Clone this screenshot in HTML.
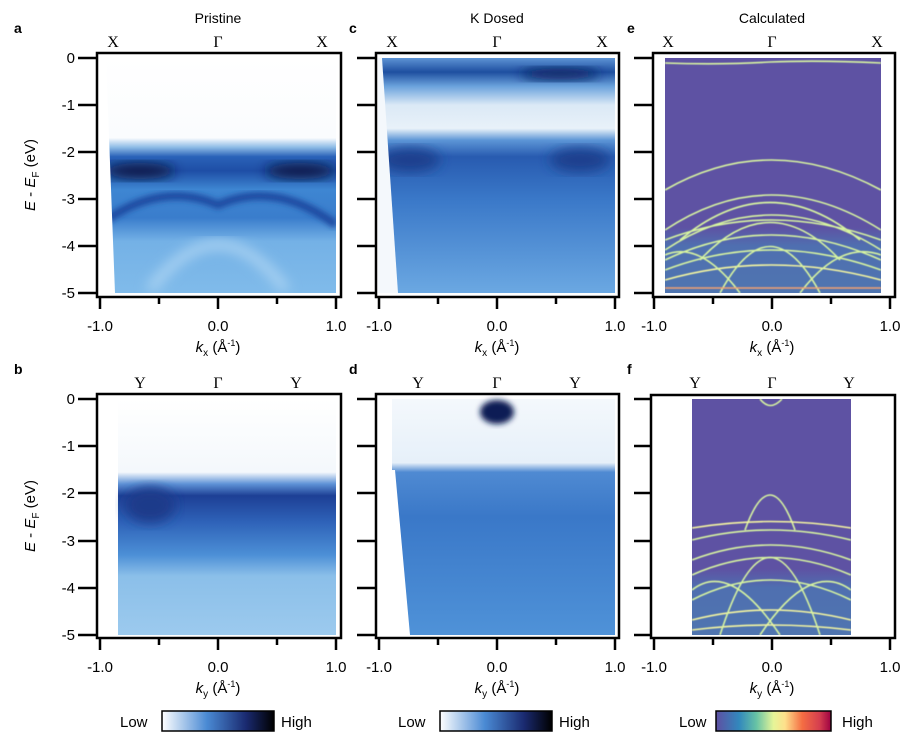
<!DOCTYPE html>
<html><head><style>
body{margin:0;background:#fff;width:904px;height:742px;overflow:hidden;font-family:"Liberation Sans",sans-serif}
svg{position:absolute;left:0;top:0}
</style></head><body>
<svg width="904" height="742" viewBox="0 0 904 742" font-family="Liberation Sans, sans-serif">
<defs>
<filter id="bl" x="-20%" y="-20%" width="140%" height="140%"><feGaussianBlur stdDeviation="6"/></filter>
<filter id="bl2" x="-20%" y="-20%" width="140%" height="140%"><feGaussianBlur stdDeviation="3"/></filter>
<filter id="gl"><feGaussianBlur stdDeviation="0.6"/></filter>
<linearGradient id="ga" x1="0" y1="0" x2="0" y2="1">
<stop offset="0" stop-color="#fff"/><stop offset="0.34" stop-color="#fafcfe"/><stop offset="0.38" stop-color="#8dbbe6"/><stop offset="0.42" stop-color="#2a62b8"/><stop offset="0.48" stop-color="#1e4ea6"/><stop offset="0.56" stop-color="#3e86d2"/><stop offset="0.68" stop-color="#3a7dcc"/><stop offset="0.78" stop-color="#74b1e6"/><stop offset="1" stop-color="#80bbea"/></linearGradient>
<linearGradient id="gc" x1="0" y1="0" x2="0" y2="1">
<stop offset="0" stop-color="#5d93d4"/><stop offset="0.06" stop-color="#1e4fa0"/><stop offset="0.12" stop-color="#6aa2dc"/><stop offset="0.2" stop-color="#dbe9f6"/><stop offset="0.3" stop-color="#e8f1f9"/><stop offset="0.35" stop-color="#5c95d6"/><stop offset="0.42" stop-color="#285bb0"/><stop offset="0.6" stop-color="#3a78c8"/><stop offset="1" stop-color="#6ba8e2"/></linearGradient>
<linearGradient id="gb" x1="0" y1="0" x2="0" y2="1">
<stop offset="0" stop-color="#fff"/><stop offset="0.31" stop-color="#f4f8fc"/><stop offset="0.36" stop-color="#5e92d6"/><stop offset="0.41" stop-color="#1d3f95"/><stop offset="0.52" stop-color="#2e62b8"/><stop offset="0.66" stop-color="#4c8fd6"/><stop offset="0.75" stop-color="#8bbfe9"/><stop offset="1" stop-color="#9ccaee"/></linearGradient>
<linearGradient id="gd" x1="0" y1="0" x2="0" y2="1">
<stop offset="0" stop-color="#f4f8fc"/><stop offset="0.27" stop-color="#e6f0f9"/><stop offset="0.31" stop-color="#4f8ad2"/><stop offset="0.5" stop-color="#3a78c8"/><stop offset="1" stop-color="#4f92d8"/></linearGradient>
<linearGradient id="cb1" x1="0" x2="1"><stop offset="0" stop-color="#fff"/><stop offset="0.4" stop-color="#4a8ad4"/><stop offset="0.75" stop-color="#1a2a70"/><stop offset="1" stop-color="#000"/></linearGradient>
<linearGradient id="cb2" x1="0" x2="1"><stop offset="0" stop-color="#5e4fa2"/><stop offset="0.2" stop-color="#3288bd"/><stop offset="0.35" stop-color="#66c2a5"/><stop offset="0.5" stop-color="#e6f598"/><stop offset="0.6" stop-color="#fee08b"/><stop offset="0.75" stop-color="#f46d43"/><stop offset="0.9" stop-color="#d53e4f"/><stop offset="1" stop-color="#9e0142"/></linearGradient>
<linearGradient id="gcal" x1="0" y1="0" x2="0" y2="1"><stop offset="0" stop-color="#5e52a3"/><stop offset="0.72" stop-color="#5e52a3"/><stop offset="0.8" stop-color="#4f6fb0"/><stop offset="1" stop-color="#4f75b0"/></linearGradient>
<clipPath id="cpa"><rect x="99" y="58" width="237" height="235"/></clipPath>
<clipPath id="cpc"><rect x="378" y="58" width="237" height="235"/></clipPath>
<clipPath id="cpe"><rect x="665" y="58" width="216" height="235"/></clipPath>
<clipPath id="cpf"><rect x="692" y="399" width="159" height="236"/></clipPath>
</defs>

<g clip-path="url(#cpa)">
<rect x="99" y="58" width="237" height="235" fill="url(#ga)"/>
<ellipse cx="140" cy="171" rx="35" ry="8" fill="#0b1a4a" filter="url(#bl)"/>
<ellipse cx="300" cy="171" rx="35" ry="8" fill="#0b1a4a" filter="url(#bl)"/>
<path d="M99 225 Q160 180 218 205 Q276 180 336 225" stroke="#1e4aa0" stroke-width="8" fill="none" filter="url(#bl2)"/>
<path d="M150 290 Q218 200 286 290" stroke="#a9d2f2" stroke-width="10" fill="none" filter="url(#bl)"/>
<polygon points="99,58 106,58 115,293 99,293" fill="#fff"/>
</g>
<g clip-path="url(#cpc)">
<rect x="378" y="58" width="237" height="235" fill="url(#gc)"/>
<ellipse cx="560" cy="74" rx="40" ry="6" fill="#0d2260" filter="url(#bl)"/>
<ellipse cx="410" cy="160" rx="30" ry="12" fill="#1a3f8e" filter="url(#bl)"/>
<ellipse cx="580" cy="160" rx="30" ry="12" fill="#1a3f8e" filter="url(#bl)"/>
<polygon points="378,58 382,58 398,293 378,293" fill="#f4f8fc"/>
</g>
<rect x="665" y="58" width="216" height="235" fill="url(#gcal)"/>
<g clip-path="url(#cpe)" fill="none" stroke="#d8f5a0" stroke-width="1.6" filter="url(#gl)">
<path d="M665 63 Q720 65 770 62 Q820 60 881 63"/>
<path d="M665 190 Q770 130 881 190"/>
<path d="M665 230 Q770 160 881 230"/>
<path d="M680 240 Q770 165 860 240"/>
<path d="M665 250 Q770 180 881 250"/>
<path d="M700 260 Q770 185 840 260"/>
<path d="M665 240 Q770 200 881 240"/>
<path d="M665 260 Q770 210 881 260"/>
<path d="M665 270 Q770 230 881 270"/>
<path d="M665 280 Q770 250 881 280" stroke="#f6f7a0"/>
<path d="M720 293 Q770 200 820 293"/>
<path d="M665 255 Q700 240 740 293"/>
<path d="M881 255 Q840 240 800 293"/>
<path d="M665 288 L881 288" stroke="#f4a070"/>
</g>
<rect x="118" y="399" width="218" height="236" fill="url(#gb)"/>
<ellipse cx="150" cy="505" rx="25" ry="18" fill="#1a3a8a" filter="url(#bl)"/>
<rect x="392" y="399" width="223" height="236" fill="url(#gd)"/>
<ellipse cx="497" cy="412" rx="17" ry="12" fill="#0d1e55" filter="url(#bl2)"/>
<polygon points="392,470 395,470 410,635 392,635" fill="#fff"/>
<rect x="692" y="399" width="159" height="236" fill="url(#gcal)"/>
<g clip-path="url(#cpf)" fill="none" stroke="#d8f5a0" stroke-width="1.6" filter="url(#gl)">
<path d="M760 399 Q770 412 782 399"/>
<path d="M745 530 Q770 460 795 530"/>
<path d="M692 528 Q770 515 851 528" stroke="#f6f7a0"/>
<path d="M692 540 Q770 520 851 540"/>
<path d="M692 560 Q770 530 851 560"/>
<path d="M692 575 Q770 540 851 575"/>
<path d="M692 600 Q770 560 851 600"/>
<path d="M692 590 Q730 560 780 635"/>
<path d="M851 590 Q810 560 760 635"/>
<path d="M692 620 Q770 600 851 620" stroke="#f6f7a0"/>
<path d="M692 630 Q770 620 851 630" stroke="#f6f7a0"/>
<path d="M720 635 Q770 480 820 635"/>
</g>

<g stroke="#000" stroke-width="2.5" fill="none">
<rect x="97" y="53" width="244" height="244"/>
<rect x="376" y="53" width="243" height="244"/>
<rect x="653" y="53" width="242" height="244"/>
<rect x="97" y="394" width="244" height="244"/>
<rect x="376" y="394" width="243" height="244"/>
<rect x="651" y="395" width="244" height="243"/>
</g>
<g stroke="#000" stroke-width="2.5">
<path d="M78 58H97M78 105H97M78 152H97M78 199H97M78 246H97M78 293H97"/>
<path d="M357 58H376M357 105H376M357 152H376M357 199H376M357 246H376M357 293H376"/>
<path d="M634 58H653M634 105H653M634 152H653M634 199H653M634 246H653M634 293H653"/>
<path d="M78 399H97M78 446H97M78 493H97M78 541H97M78 588H97M78 635H97"/>
<path d="M357 399H376M357 446H376M357 493H376M357 541H376M357 588H376M357 635H376"/>
<path d="M634 399H651M634 446H651M634 493H651M634 541H651M634 588H651M634 635H651"/>
<path d="M100 297V309M159 297V304M218 297V309M277 297V304M336 297V309"/>
<path d="M379 297V309M438 297V304M497 297V309M556 297V304M615 297V309"/>
<path d="M654 297V309M713 297V304M772 297V309M831 297V304M890 297V309"/>
<path d="M100 638V650M159 638V645M218 638V650M277 638V645M336 638V650"/>
<path d="M379 638V650M438 638V645M497 638V650M556 638V645M615 638V650"/>
<path d="M654 638V650M713 638V645M772 638V650M831 638V645M890 638V650"/>
</g>
<g font-size="15" text-anchor="end">
<text x="75" y="63">0</text><text x="75" y="110">-1</text><text x="75" y="157">-2</text><text x="75" y="204">-3</text><text x="75" y="251">-4</text><text x="75" y="298">-5</text>
<text x="75" y="404">0</text><text x="75" y="451">-1</text><text x="75" y="498">-2</text><text x="75" y="546">-3</text><text x="75" y="593">-4</text><text x="75" y="640">-5</text>
</g>
<g font-size="15" text-anchor="middle">
<text x="100" y="331">-1.0</text><text x="218" y="331">0.0</text><text x="336" y="331">1.0</text>
<text x="379" y="331">-1.0</text><text x="497" y="331">0.0</text><text x="615" y="331">1.0</text>
<text x="654" y="331">-1.0</text><text x="772" y="331">0.0</text><text x="890" y="331">1.0</text>
<text x="100" y="672">-1.0</text><text x="218" y="672">0.0</text><text x="336" y="672">1.0</text>
<text x="379" y="672">-1.0</text><text x="497" y="672">0.0</text><text x="615" y="672">1.0</text>
<text x="654" y="672">-1.0</text><text x="772" y="672">0.0</text><text x="890" y="672">1.0</text>
<text x="218" y="23" font-size="14">Pristine</text><text x="497" y="23" font-size="14">K Dosed</text><text x="772" y="23" font-size="14">Calculated</text>
</g>
<g font-size="15" text-anchor="middle">
<text x="218" y="352"><tspan font-style="italic">k</tspan><tspan font-size="10" dy="4">x</tspan><tspan dy="-4"> (Å</tspan><tspan font-size="9" dy="-6">-1</tspan><tspan dy="6">)</tspan></text>
<text x="497" y="352"><tspan font-style="italic">k</tspan><tspan font-size="10" dy="4">x</tspan><tspan dy="-4"> (Å</tspan><tspan font-size="9" dy="-6">-1</tspan><tspan dy="6">)</tspan></text>
<text x="772" y="352"><tspan font-style="italic">k</tspan><tspan font-size="10" dy="4">x</tspan><tspan dy="-4"> (Å</tspan><tspan font-size="9" dy="-6">-1</tspan><tspan dy="6">)</tspan></text>
<text x="218" y="693"><tspan font-style="italic">k</tspan><tspan font-size="10" dy="4">y</tspan><tspan dy="-4"> (Å</tspan><tspan font-size="9" dy="-6">-1</tspan><tspan dy="6">)</tspan></text>
<text x="497" y="693"><tspan font-style="italic">k</tspan><tspan font-size="10" dy="4">y</tspan><tspan dy="-4"> (Å</tspan><tspan font-size="9" dy="-6">-1</tspan><tspan dy="6">)</tspan></text>
<text x="772" y="693"><tspan font-style="italic">k</tspan><tspan font-size="10" dy="4">y</tspan><tspan dy="-4"> (Å</tspan><tspan font-size="9" dy="-6">-1</tspan><tspan dy="6">)</tspan></text>
</g>
<g font-size="15" transform="rotate(-90)">
<text x="-175" y="35" text-anchor="middle"><tspan font-style="italic">E</tspan> - <tspan font-style="italic">E</tspan><tspan font-size="10" dy="4">F</tspan><tspan dy="-4"> (eV)</tspan></text>
<text x="-516" y="35" text-anchor="middle"><tspan font-style="italic">E</tspan> - <tspan font-style="italic">E</tspan><tspan font-size="10" dy="4">F</tspan><tspan dy="-4"> (eV)</tspan></text>
</g>
<g font-size="16" font-family="Liberation Serif, serif" text-anchor="middle">
<text x="113" y="47">X</text><text x="218" y="47">Γ</text><text x="322" y="47">X</text>
<text x="392" y="47">X</text><text x="497" y="47">Γ</text><text x="602" y="47">X</text>
<text x="668" y="47">X</text><text x="772" y="47">Γ</text><text x="877" y="47">X</text>
<text x="140" y="388">Y</text><text x="218" y="388">Γ</text><text x="296" y="388">Y</text>
<text x="418" y="388">Y</text><text x="497" y="388">Γ</text><text x="575" y="388">Y</text>
<text x="695" y="388">Y</text><text x="772" y="388">Γ</text><text x="849" y="388">Y</text>
</g>
<g font-size="14" font-weight="bold">
<text x="14" y="33">a</text><text x="349" y="33">c</text><text x="627" y="33">e</text>
<text x="14" y="374">b</text><text x="349" y="374">d</text><text x="627" y="374">f</text>
</g>
<rect x="162" y="711" width="112" height="20" fill="url(#cb1)" stroke="#000" stroke-width="1.5"/>
<rect x="440" y="711" width="112" height="20" fill="url(#cb1)" stroke="#000" stroke-width="1.5"/>
<rect x="716" y="711" width="115" height="20" fill="url(#cb2)" stroke="#000" stroke-width="1.5"/>
<g font-size="15">
<text x="120" y="727">Low</text><text x="281" y="727">High</text>
<text x="398" y="727">Low</text><text x="559" y="727">High</text>
<text x="679" y="727">Low</text><text x="842" y="727">High</text>
</g>
</svg>
</body></html>
